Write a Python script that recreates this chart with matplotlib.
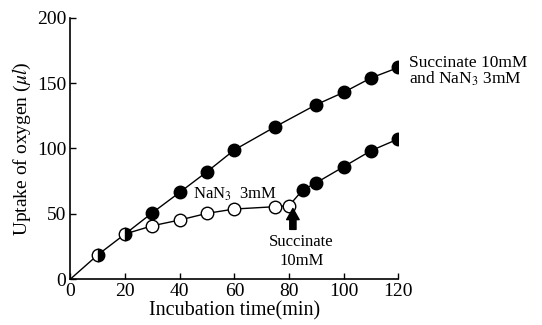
import matplotlib
matplotlib.use("Agg")
import matplotlib.pyplot as plt

plt.rcParams['font.family'] = ['Liberation Serif', 'DejaVu Serif']
plt.rcParams['mathtext.fontset'] = 'stix'

# shared start (before NaN3 is added)
t_start = [0, 10, 20]
o2_start = [0, 18.5, 34.5]

# succinate 10mM + NaN3 3mM from the start
t_both = [20, 30, 40, 50, 60, 75, 90, 100, 110, 120]
o2_both = [34.5, 50.8, 66.4, 82.2, 98.9, 116.7, 133.6, 143, 154, 162]

# NaN3 3mM only
t_azide = [20, 30, 40, 50, 60, 75, 80]
o2_azide = [34.5, 40.8, 45.2, 50.3, 53.6, 55.4, 56.2]

# succinate added at 80 min
t_late = [80, 85, 90, 100, 110, 120]
o2_late = [56.2, 68.2, 73.8, 86, 98.3, 107.3]

fig = plt.figure(figsize=(5.42, 3.25), dpi=100)
ax = fig.add_axes([0.130, 0.1415, 0.605, 0.8035])

ms = 9
ax.plot(t_start, o2_start, color='black', lw=1)
ax.plot(t_both, o2_both, color='black', lw=1)
ax.plot(t_azide, o2_azide, color='black', lw=1)
ax.plot(t_late, o2_late, color='black', lw=1)

# half-filled points before the split
ax.plot(t_start[1:], o2_start[1:], ls='none', marker='o', ms=ms, fillstyle='right',
        markerfacecolor='black', markerfacecoloralt='white', markeredgecolor='black', mew=1, zorder=3)
ax.plot(t_both[1:], o2_both[1:], ls='none', marker='o', ms=ms,
        mfc='black', mec='black', zorder=3)
ax.plot(t_azide[1:], o2_azide[1:], ls='none', marker='o', ms=ms,
        mfc='white', mec='black', mew=1, zorder=3)
ax.plot(t_late[1:], o2_late[1:], ls='none', marker='o', ms=ms,
        mfc='black', mec='black', zorder=3)

ax.set_xlim(0, 120)
ax.set_ylim(0, 200)
ax.set_xticks([0, 20, 40, 60, 80, 100, 120])
ax.set_yticks([0, 50, 100, 150, 200])
ax.tick_params(direction='in', length=4, width=1, labelsize=14, pad=3)
for s in ['top', 'right']:
    ax.spines[s].set_visible(False)
for s in ['left', 'bottom']:
    ax.spines[s].set_linewidth(1.2)

ax.set_xlabel('Incubation time(min)', fontsize=14.5, labelpad=1)
ax.set_ylabel(r'Uptake of oxygen ($\mu l$)', fontsize=14, labelpad=3)

ax.text(45, 65, r'NaN$_3$  3mM', fontsize=12, va='center', ha='left')
ax.text(84.5, 21, 'Succinate\n10mM', fontsize=12, va='center', ha='center', linespacing=1.25)
ax.text(124, 159, 'Succinate 10mM\nand NaN$_3$ 3mM', fontsize=12.5, va='center', ha='left',
        linespacing=0.95, clip_on=False)
ax.annotate('', xy=(81.4, 54), xytext=(81.4, 38),
            arrowprops=dict(arrowstyle='simple,head_width=0.9,head_length=0.8,tail_width=0.45',
                            color='black', shrinkA=0, shrinkB=0))

fig.savefig('out.png', dpi=100)
